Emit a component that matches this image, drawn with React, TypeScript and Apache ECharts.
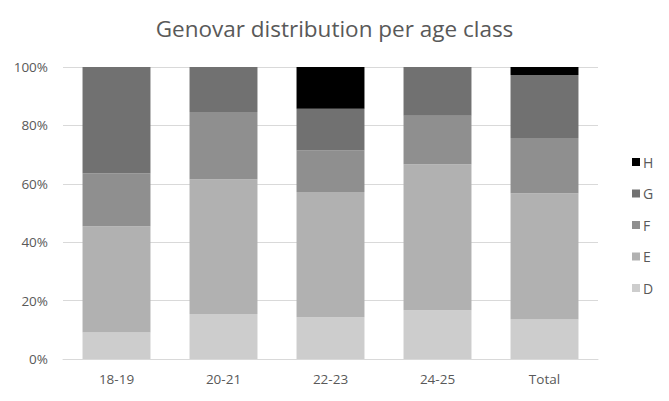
import React, { useEffect, useRef } from "react";
import * as echarts from "echarts";

const categories = ["18-19", "20-21", "22-23", "24-25", "Total"];
const seriesNames = ["D", "E", "F", "G", "H"];
const D = [9.09, 15.38, 14.29, 16.67, 13.51];
const E = [36.36, 46.15, 42.86, 50.0, 43.24];
const F = [18.18, 23.08, 14.29, 16.67, 18.92];
const G = [36.36, 15.38, 14.29, 16.67, 21.62];
const H = [0, 0, 14.29, 0, 2.7];
const colors = ["#cdcdcd", "#b1b1b1", "#8f8f8f", "#717171", "#000000"];

export default function App() {
  const ref = useRef<HTMLDivElement>(null);
  useEffect(() => {
    if (!ref.current) return;
    const chart = echarts.init(ref.current, undefined, { renderer: "svg" });
    const values = [D, E, F, G, H];
    const font = "'Open Sans', sans-serif";
    chart.setOption({
      animation: false,
      title: {
        text: "Genovar distribution per age class",
        left: "center",
        top: 12,
        textStyle: { fontFamily: font, fontSize: 22.5, fontWeight: "normal", color: "#595959" },
      },
      legend: {
        data: ["H", "G", "F", "E", "D"],
        orient: "vertical",
        left: 627,
        top: 150,
        itemWidth: 8,
        itemHeight: 8,
        itemGap: 17.5,
        icon: "rect",
        textStyle: { fontFamily: font, fontSize: 14, color: "#595959", padding: [0, 0, 0, -2] },
      },
      grid: { left: 63, right: 71, top: 67, bottom: 42 },
      xAxis: {
        type: "category",
        data: categories,
        axisTick: { show: false },
        axisLine: { lineStyle: { color: "#d9d9d9" } },
        axisLabel: { fontFamily: font, fontSize: 13.5, color: "#595959", margin: 13 },
      },
      yAxis: {
        type: "value",
        min: 0,
        max: 100,
        interval: 20,
        axisLabel: { formatter: "{value}%", fontFamily: font, fontSize: 13.5, color: "#595959", margin: 15 },
        splitLine: { lineStyle: { color: "#d9d9d9" } },
        axisLine: { show: false },
        axisTick: { show: false },
      },
      series: seriesNames.map((name, i) => ({
        name,
        type: "bar",
        stack: "total",
        data: values[i],
        barWidth: "63.5%",
        itemStyle: { color: colors[i] },
      })),
    });
    return () => chart.dispose();
  }, []);
  return <div ref={ref} style={{ width: 669, height: 401, position: "absolute", left: 0, top: 0 }} />;
}
